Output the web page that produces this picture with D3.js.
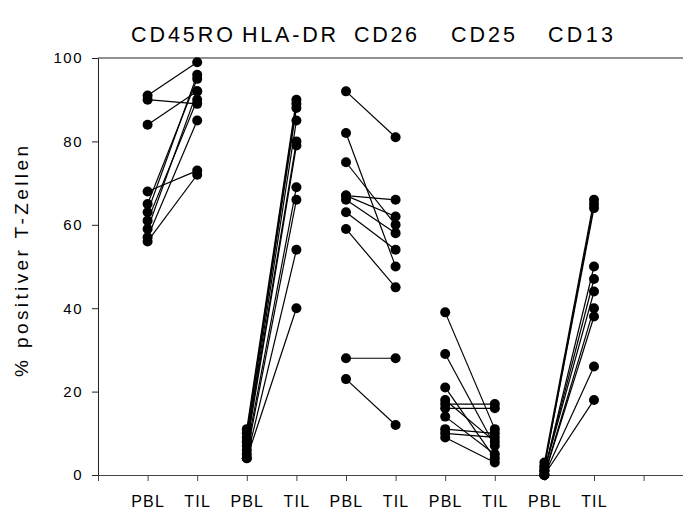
<!DOCTYPE html>
<html>
<head>
<meta charset="utf-8">
<script src="https://cdn.jsdelivr.net/npm/d3@7"></script>
<style>
  html, body { margin: 0; padding: 0; background: #fff; }
  svg { display: block; }
  text { font-family: "Liberation Sans", Arial, sans-serif; fill: #000; }
</style>
</head>
<body>
<svg id="chart" width="683" height="509"></svg>
<script>
// Surface markers, one panel of paired measurements each
const markers = ["CD45RO", "HLA-DR", "CD26", "CD25", "CD13"];
const sampleLabels = ["PBL", "TIL"];
const yTicks = [0, 20, 40, 60, 80, 100];

// Percent positive T cells, paired per patient (PBL -> TIL)
const pblCD45RO = [91, 90, 84, 68, 65, 63, 61, 59, 57, 56];
const tilCD45RO = [99, 89, 92, 73, 95, 96, 90, 92, 85, 72];

const pblHLADR = [11, 10, 9, 8, 8, 7, 6, 5, 4, 4];
const tilHLADR = [90, 89, 88, 85, 80, 79, 69, 66, 54, 40];

const pblCD26 = [92, 82, 75, 67, 67, 66, 63, 59, 28, 23];
const tilCD26 = [81, 50, 60, 66, 62, 58, 54, 45, 28, 12];

const pblCD25 = [39, 29, 21, 18, 17, 16, 14, 11, 10, 9];
const tilCD25 = [11, 7, 4, 8, 17, 16, 5, 10, 9, 3];

const pblCD13 = [3, 2, 2, 1, 1, 1, 0, 0, 0, 0];
const tilCD13 = [66, 65, 64, 50, 47, 44, 40, 38, 26, 18];

const panels = [
  [pblCD45RO, tilCD45RO],
  [pblHLADR, tilHLADR],
  [pblCD26, tilCD26],
  [pblCD25, tilCD25],
  [pblCD13, tilCD13]
];

const svg = d3.select("#chart");
const x = d3.scaleLinear().domain([0, 12]).range([98, 693.2]);
const y = d3.scaleLinear().domain([0, 100]).range([475, 58]);

// Title: marker names above their panels
const titleBoxes = [[131, 102], [242, 94], [354, 63], [451, 64], [548, 65]];
svg.append("g").selectAll("text").data(markers).join("text")
  .attr("x", (d, i) => titleBoxes[i][0])
  .attr("y", 42)
  .attr("font-size", 21.5)
  .attr("textLength", (d, i) => titleBoxes[i][1])
  .attr("lengthAdjust", "spacing")
  .text(d => d);

// Y axis
const yAxis = svg.append("g").attr("transform", `translate(${x(0)},0)`)
  .call(d3.axisLeft(y).tickValues(yTicks).tickSize(6).tickPadding(9).tickSizeOuter(0));
yAxis.select(".domain").attr("stroke", "#222");
yAxis.selectAll(".tick line").attr("stroke", "#222");
yAxis.selectAll(".tick text")
  .attr("font-size", 15).attr("letter-spacing", 1.5)
  .attr("font-family", "Liberation Sans, Arial, sans-serif");

// X axis with PBL / TIL under each paired column
const xTickVals = d3.range(0, 12);
const xAxis = svg.append("g").attr("transform", `translate(0,${y(0)})`)
  .call(d3.axisBottom(x).tickValues(xTickVals).tickSize(6).tickSizeOuter(0)
    .tickFormat(d => (d >= 1 && d <= 10) ? sampleLabels[(d - 1) % 2] : ""));
xAxis.select(".domain").attr("stroke", "#444");
xAxis.selectAll(".tick line").attr("stroke", "#444");
xAxis.selectAll(".tick text")
  .attr("font-size", 16).attr("letter-spacing", 1.2)
  .attr("dy", 0).attr("y", 32)
  .attr("font-family", "Liberation Sans, Arial, sans-serif");

// Frame top edge
svg.append("line")
  .attr("x1", x(0)).attr("x2", x(12))
  .attr("y1", y(100)).attr("y2", y(100))
  .attr("stroke", "#222");

// Y axis title
svg.append("text")
  .attr("transform", `translate(28,${(146 + 377) / 2}) rotate(-90)`)
  .attr("text-anchor", "middle")
  .attr("font-size", 19)
  .attr("textLength", 231)
  .attr("lengthAdjust", "spacing")
  .text("% positiver T-Zellen");

// Paired lines and dots
const plot = svg.append("g");
panels.forEach(([pbl, til], i) => {
  const x0 = x(2 * i + 1), x1 = x(2 * i + 2);
  const pairs = pbl.map((v, k) => ({ a: v, b: til[k] }));
  const g = plot.append("g");
  g.selectAll("line").data(pairs).join("line")
    .attr("x1", x0).attr("y1", d => y(d.a))
    .attr("x2", x1).attr("y2", d => y(d.b))
    .attr("stroke", "#000").attr("stroke-width", 1.2);
  g.selectAll("circle.p").data(pbl).join("circle").attr("class", "p")
    .attr("cx", x0).attr("cy", d => y(d)).attr("r", 5).attr("fill", "#000");
  g.selectAll("circle.t").data(til).join("circle").attr("class", "t")
    .attr("cx", x1).attr("cy", d => y(d)).attr("r", 5).attr("fill", "#000");
});
</script>
</body>
</html>
